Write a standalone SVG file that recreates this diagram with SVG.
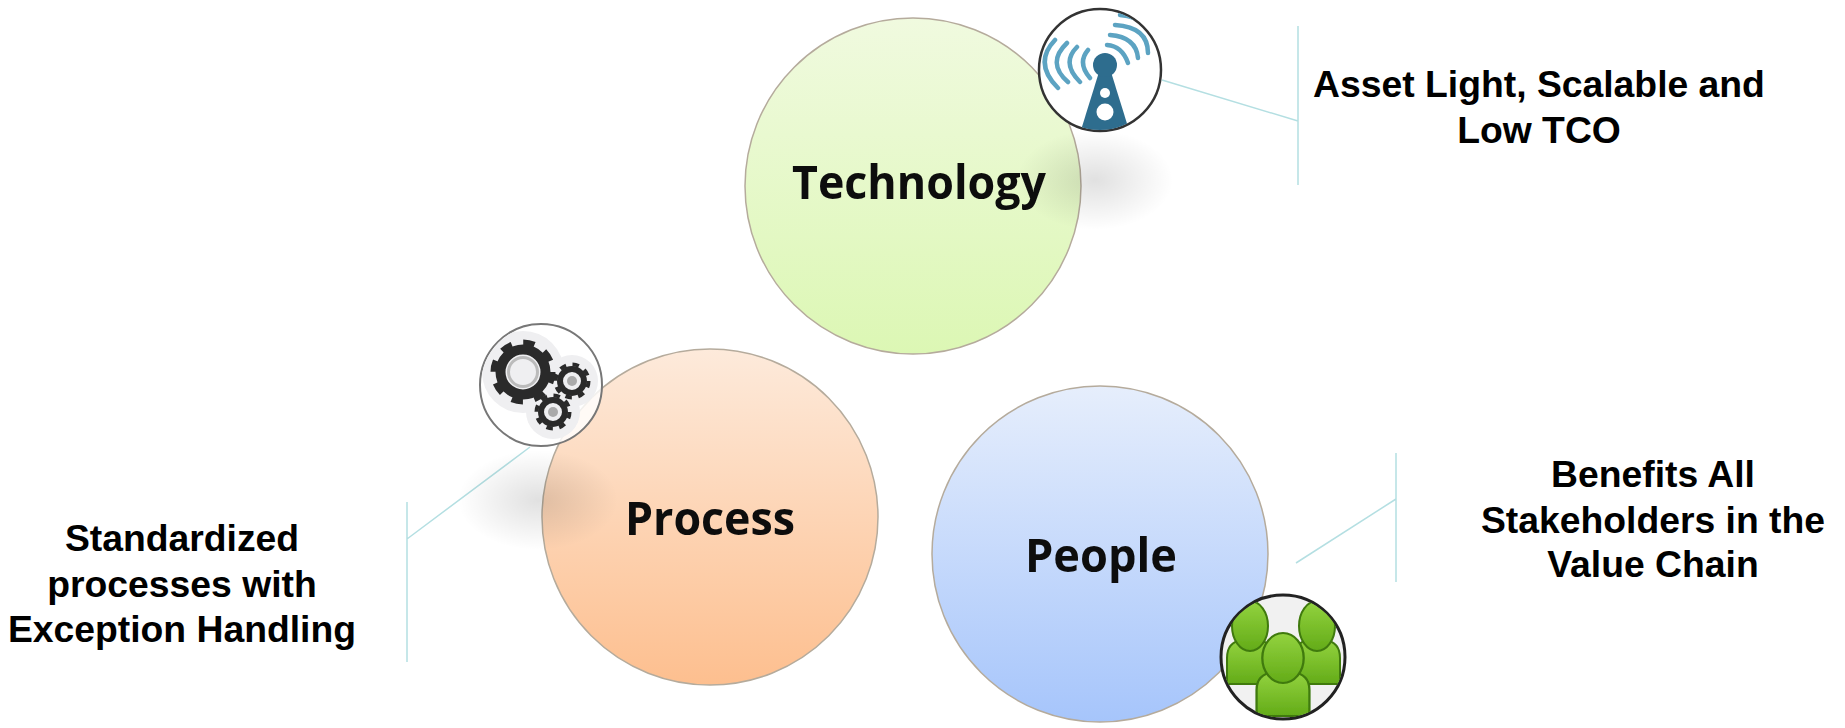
<svg xmlns="http://www.w3.org/2000/svg" width="1845" height="728" viewBox="0 0 1845 728">
<style>
.big{font-family:"Open Sans","Noto Sans","DejaVu Sans",sans-serif;font-weight:700;font-size:46px;fill:#111;text-anchor:middle}
.lab{font-family:"Liberation Sans",Arial,sans-serif;font-weight:700;font-size:37.3px;fill:#000;text-anchor:middle}
.c{stroke:#b5ab9c;stroke-width:1.5}
.ln{stroke:#b4dfe2;stroke-width:1.5;fill:none}
.ring{fill:#fff;stroke:#333;stroke-width:2.5}
.tw{fill:#2e6d8e}
.wave{fill:none;stroke:#5ba3c2;stroke-width:4.5;stroke-linecap:round}
</style>
<defs>
<filter id="soft" x="-5%" y="-5%" width="110%" height="110%"><feGaussianBlur stdDeviation="0.7"/></filter>
<linearGradient id="gG" x1="0" y1="0" x2="0" y2="1"><stop offset="0" stop-color="#f0fadf"/><stop offset="1" stop-color="#dcf7b4"/></linearGradient>
<linearGradient id="gO" x1="0" y1="0" x2="0" y2="1"><stop offset="0" stop-color="#fdeadb"/><stop offset="1" stop-color="#fdbf8f"/></linearGradient>
<linearGradient id="gB" x1="0" y1="0" x2="0" y2="1"><stop offset="0" stop-color="#e6eefc"/><stop offset="1" stop-color="#a6c5fb"/></linearGradient>
<linearGradient id="gP" x1="0" y1="0" x2="0" y2="1"><stop offset="0" stop-color="#93d33f"/><stop offset="1" stop-color="#63ab18"/></linearGradient>
<radialGradient id="sh"><stop offset="0" stop-color="#000" stop-opacity=".12"/><stop offset=".5" stop-color="#000" stop-opacity=".06"/><stop offset="1" stop-color="#000" stop-opacity="0"/></radialGradient>
<clipPath id="cpP"><circle cx="1283" cy="657" r="61"/></clipPath>
<clipPath id="cpT"><circle cx="1100" cy="70" r="60"/></clipPath>
<clipPath id="cpG"><circle cx="541" cy="385" r="60"/></clipPath>
<g id="person"><path d="M-23 24V-2Q-23 -18 -8 -20H8Q23 -18 23 -2V24Z" fill="url(#gP)" stroke="#3f7a0e" stroke-width="2"/><ellipse cy="-34" rx="18" ry="25" fill="url(#gP)" stroke="#3f7a0e" stroke-width="2"/></g>
</defs>
<g id="connectors">
<path class="ln" d="M1162 80L1298 121M1298 26V185"/>
<path class="ln" d="M530 447L407 539M407 502V662"/>
<path class="ln" d="M1296 563L1396 499M1396 453V582"/>
</g>
<g id="technology"><circle class="c" cx="913" cy="186" r="168" fill="url(#gG)"/><ellipse cx="1095" cy="180" rx="78" ry="50" fill="url(#sh)"/><text class="big" x="919" y="199" textLength="254" lengthAdjust="spacingAndGlyphs" filter="url(#soft)">Technology</text></g>
<g id="process"><circle class="c" cx="710" cy="517" r="168" fill="url(#gO)"/><ellipse cx="538" cy="500" rx="80" ry="50" fill="url(#sh)"/><text class="big" x="710" y="535" textLength="170" lengthAdjust="spacingAndGlyphs" filter="url(#soft)">Process</text></g>
<g id="people"><circle class="c" cx="1100" cy="554" r="168" fill="url(#gB)"/><text class="big" x="1101" y="572" textLength="152" lengthAdjust="spacingAndGlyphs" filter="url(#soft)">People</text></g>
<g id="tower-icon"><circle class="ring" cx="1100" cy="70" r="61"/>
<g clip-path="url(#cpT)" filter="url(#soft)">
<path class="tw" d="M1081 130L1099 72H1111L1129 130Z"/><circle class="tw" cx="1105" cy="65" r="12"/>
<circle cx="1105" cy="93" r="5" fill="#fff"/><circle cx="1105" cy="112" r="8.5" fill="#fff"/>
<path class="wave" d="M1055 40Q1033 63 1058 88M1067 43Q1046 63 1068 82M1077 47Q1061 63 1080 82M1088 50Q1077 63 1090 78"/>
<path class="wave" d="M1107 45Q1122 46 1128 63M1110 35Q1136 37 1138 58M1115 25Q1148 27 1148 53M1120 15Q1152 18 1158 44"/>
</g></g>
<g id="gears-icon"><circle cx="541" cy="385" r="61" fill="#fff" fill-opacity=".82" stroke="#777" stroke-width="2"/>
<g clip-path="url(#cpG)" filter="url(#soft)">
<circle cx="523" cy="372" r="41" fill="#efeff1"/><circle cx="572" cy="381" r="26" fill="#efeff1"/><circle cx="553" cy="412" r="27" fill="#efeff1"/>
<g transform="translate(523 372)"><circle r="22.5" fill="none" stroke="#2b2b2b" stroke-width="10"/><circle r="29.5" fill="none" stroke="#2b2b2b" stroke-width="6" stroke-dasharray="11.5 11.67"/><circle r="14.5" fill="none" stroke="#bbb" stroke-width="3"/></g>
<g transform="translate(572 381)"><circle r="12" fill="none" stroke="#2b2b2b" stroke-width="6"/><circle r="16.5" fill="none" stroke="#2b2b2b" stroke-width="4" stroke-dasharray="6.5 6.46"/><circle r="5" fill="#aaa"/></g>
<g transform="translate(553 412)"><circle r="12" fill="none" stroke="#2b2b2b" stroke-width="6"/><circle r="16.5" fill="none" stroke="#2b2b2b" stroke-width="4" stroke-dasharray="6.5 6.46"/><circle r="5" fill="#aaa"/></g>
</g></g>
<g id="people-icon"><circle cx="1283" cy="657" r="62" fill="#f1f1f1" stroke="#222" stroke-width="3"/>
<g clip-path="url(#cpP)" filter="url(#soft)"><use href="#person" x="1250" y="660"/><use href="#person" x="1317" y="660"/><use href="#person" transform="translate(1283 692) scale(1.15 1)"/></g></g>
<g id="label-technology"><text class="lab" x="1539" y="97">Asset Light, Scalable and</text><text class="lab" x="1539" y="143">Low TCO</text></g>
<g id="label-process"><text class="lab" x="182" y="551">Standardized</text><text class="lab" x="182" y="597">processes with</text><text class="lab" x="182" y="642">Exception Handling</text></g>
<g id="label-people"><text class="lab" x="1653" y="487">Benefits All</text><text class="lab" x="1653" y="533">Stakeholders in the</text><text class="lab" x="1653" y="577">Value Chain</text></g>
</svg>
